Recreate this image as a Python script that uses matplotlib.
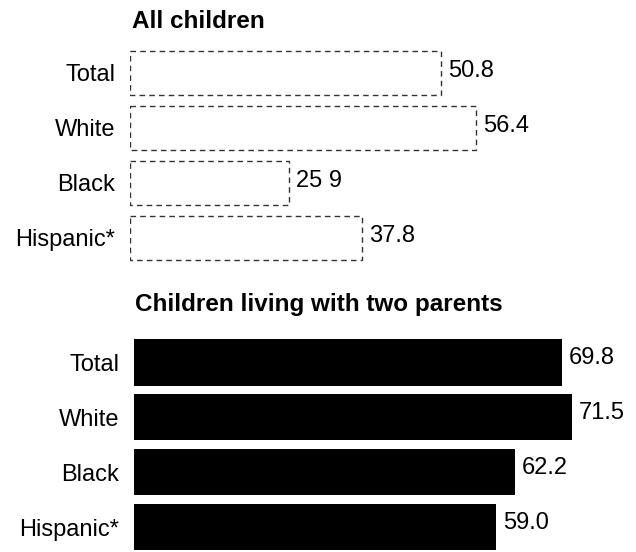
import numpy as np
import matplotlib.pyplot as plt

# === DATA ===
categories = ["Total", "White", "Black", "Hispanic*"]
all_children = [50.8, 56.4, 25.9, 37.8]
all_children_labels = ["50.8", "56.4", "25 9", "37.8"]
two_parents = [69.8, 71.5, 62.2, 59.0]
two_parents_labels = ["69.8", "71.5", "62.2", "59.0"]

# === LAYOUT (pixels of a 636x552 figure) ===
W, H = 636, 552
PX_PER_UNIT = 6.13
FONT = "Liberation Sans"
FS = 17
TITLE_FS = 17.5

plt.rcParams["font.family"] = [FONT, "DejaVu Sans"]

fig = plt.figure(figsize=(W / 100, H / 100), dpi=100)


def make_axes(left_px, top_px, bottom_px):
    width_px = W - left_px
    ax = fig.add_axes([left_px / W, 1 - bottom_px / H,
                       width_px / W, (bottom_px - top_px) / H])
    ax.set_xlim(0, width_px / PX_PER_UNIT)
    for s in ax.spines.values():
        s.set_visible(False)
    ax.set_xticks([])
    ax.tick_params(axis="y", length=0, pad=10.5, labelsize=FS)
    return ax


y = np.arange(len(categories))

# top panel: outlined bars
ax1 = make_axes(130, 45, 265)
ax1.barh(y, all_children, height=0.8, facecolor="white",
         edgecolor="#333333", linewidth=1.0, linestyle=(0, (4, 3)))
ax1.set_ylim(3.5, -0.5)
ax1.set_yticks(y, categories)
for yi, v, lab in zip(y, all_children, all_children_labels):
    ax1.annotate(lab, (v, yi), xytext=(5, 1), textcoords="offset points",
                 va="center", ha="left", fontsize=FS)

# bottom panel: solid black bars
ax2 = make_axes(134, 335, 552)
ax2.barh(y, two_parents, height=0.84, color="black")
ax2.set_ylim(3.45, -0.5)
ax2.set_yticks(y, categories)
for yi, v, lab in zip(y, two_parents, two_parents_labels):
    ax2.annotate(lab, (v, yi), xytext=(5, 3), textcoords="offset points",
                 va="center", ha="left", fontsize=FS)

fig.text(132 / W, 1 - 22 / H, "All children", fontsize=TITLE_FS,
         fontweight="bold", va="center", ha="left")
fig.text(135 / W, 1 - 305 / H, "Children living with two parents",
         fontsize=TITLE_FS, fontweight="bold", va="center", ha="left")

fig.savefig("out.png", dpi=100)
